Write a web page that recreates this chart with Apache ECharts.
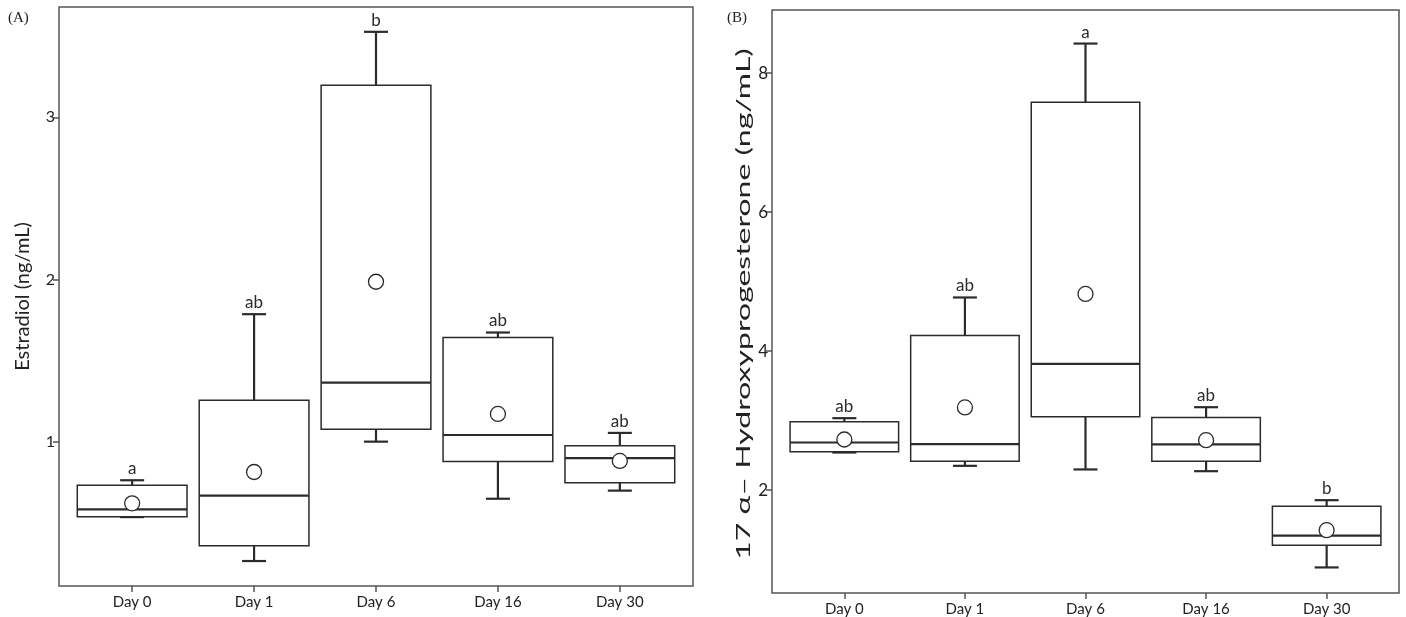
<!DOCTYPE html>
<html><head><meta charset="utf-8">
<script src="https://cdn.jsdelivr.net/npm/echarts@6/dist/echarts.min.js"></script>
<style>html,body{margin:0;padding:0;background:#fff}#c{width:1406px;height:617px}</style>
</head><body><div id="c"></div>
<script>
const categories = ['Day 0', 'Day 1', 'Day 6', 'Day 16', 'Day 30'];
// each box: [lower whisker, Q1, median, Q3, upper whisker]
const estradiolBox = [
  [0.535, 0.537, 0.583, 0.731, 0.762],
  [0.264, 0.358, 0.667, 1.256, 1.786],
  [1.000, 1.077, 1.364, 3.198, 3.527],
  [0.648, 0.877, 1.041, 1.642, 1.673],
  [0.698, 0.747, 0.898, 0.975, 1.054]
];
const estradiolMean = [0.620, 0.813, 1.986, 1.171, 0.881];
const estradiolLetters = ['a', 'ab', 'b', 'ab', 'ab'];
const estradiolTicks = [1, 2, 3];

const ohpBox = [
  [2.542, 2.551, 2.686, 2.983, 3.036],
  [2.350, 2.417, 2.662, 4.226, 4.773],
  [2.298, 3.055, 3.817, 7.583, 8.427],
  [2.273, 2.417, 2.658, 3.046, 3.194],
  [0.888, 1.206, 1.345, 1.770, 1.856]
];
const ohpMean = [2.729, 3.190, 4.824, 2.719, 1.424];
const ohpLetters = ['ab', 'ab', 'a', 'ab', 'b'];
const ohpTicks = [2, 4, 6, 8];
const catIdx = [0, 1, 2, 3, 4];

const INK = '#2b2b2b';
const FONT = 'Lato, "Open Sans", sans-serif';

function makeRender(letters) {
  return function (params, api) {
    const i = api.value(0);
    const pLow = api.coord([i, api.value(1)]);
    const pQ1 = api.coord([i, api.value(2)]);
    const pMed = api.coord([i, api.value(3)]);
    const pQ3 = api.coord([i, api.value(4)]);
    const pHigh = api.coord([i, api.value(5)]);
    const x = pLow[0];
    const bw = api.size([1, 0])[0] * 0.9;
    const cap = 12;
    const thick = { stroke: INK, lineWidth: 2.2, fill: null };
    return {
      type: 'group',
      children: [
        { type: 'line', shape: { x1: x, y1: pQ3[1], x2: x, y2: pHigh[1] }, style: thick },
        { type: 'line', shape: { x1: x - cap, y1: pHigh[1], x2: x + cap, y2: pHigh[1] }, style: thick },
        { type: 'line', shape: { x1: x, y1: pQ1[1], x2: x, y2: pLow[1] }, style: thick },
        { type: 'line', shape: { x1: x - cap, y1: pLow[1], x2: x + cap, y2: pLow[1] }, style: thick },
        { type: 'rect', shape: { x: x - bw / 2, y: pQ3[1], width: bw, height: pQ1[1] - pQ3[1] },
          style: { fill: '#fff', stroke: INK, lineWidth: 1.5 } },
        { type: 'line', shape: { x1: x - bw / 2, y1: pMed[1], x2: x + bw / 2, y2: pMed[1] }, style: thick },
        { type: 'text', x: x, y: pHigh[1] - 3,
          style: { text: letters[params.dataIndex], fill: INK, font: '17px ' + FONT, align: 'center', verticalAlign: 'bottom' } }
      ]
    };
  };
}

function boxData(box) { return box.map((b, i) => [catIdx[i], b[0], b[1], b[2], b[3], b[4]]); }
function meanData(m) { return m.map((v, i) => [catIdx[i], v]); }

const xAxisBase = (gridIndex) => ({
  type: 'value', gridIndex, min: -0.6, max: 4.6,
  axisLine: { show: false, onZero: false },
  splitLine: { show: false },
  axisTick: { show: true, customValues: catIdx, length: 6, lineStyle: { color: '#555', width: 1.5 } },
  axisLabel: { customValues: catIdx, formatter: v => categories[Math.round(v)], fontSize: 15, color: '#222', margin: 9, fontFamily: FONT }
});

const yAxisBase = (gridIndex, min, max, ticks, name, gap, fs) => ({
  type: 'value', gridIndex, min, max,
  axisLine: { show: false, onZero: false },
  splitLine: { show: false },
  axisTick: { show: true, customValues: ticks, length: 6, lineStyle: { color: '#555', width: 1.5 } },
  axisLabel: { customValues: ticks, fontSize: fs, color: '#222', margin: 4, fontFamily: FONT },
  name, nameLocation: 'middle', nameGap: gap,
  nameTextStyle: { fontSize: 20, color: '#222', fontFamily: FONT }
});

const chart = echarts.init(document.getElementById('c'));
chart.setOption({
  animation: false,
  backgroundColor: '#fff',
  grid: [
    { left: 59, top: 7, width: 634, height: 579, show: true, borderColor: '#555', borderWidth: 1.5, backgroundColor: 'transparent' },
    { left: 772, top: 10, width: 627, height: 583, show: true, borderColor: '#555', borderWidth: 1.5, backgroundColor: 'transparent' }
  ],
  xAxis: [xAxisBase(0), xAxisBase(1)],
  yAxis: [
    yAxisBase(0, 0.11, 3.68, estradiolTicks, 'Estradiol (ng/mL)', 26, 16),
    yAxisBase(1, 0.52, 8.91, ohpTicks, '', 24, 17)
  ],
  graphic: [
    { type: 'text', left: 8, top: 11, style: { text: '(A)', font: '15px "Liberation Serif", serif', fill: '#222' } },
    { type: 'text', left: 727, top: 11, style: { text: '(B)', font: '15px "Liberation Serif", serif', fill: '#222' } },
    { type: 'text', x: 744, y: 304, rotation: Math.PI / 2, scaleX: 1.6, scaleY: 1,
      style: { text: '17 α– Hydroxyprogesterone (ng/mL)', font: '20px ' + FONT, fill: '#222', align: 'center', verticalAlign: 'middle' } }
  ],
  series: [
    { type: 'custom', xAxisIndex: 0, yAxisIndex: 0, renderItem: makeRender(estradiolLetters), data: boxData(estradiolBox), z: 2 },
    { type: 'scatter', xAxisIndex: 0, yAxisIndex: 0, data: meanData(estradiolMean), symbol: 'circle', symbolSize: 15,
      itemStyle: { color: '#fff', borderColor: INK, borderWidth: 1.3, opacity: 1 }, z: 3 },
    { type: 'custom', xAxisIndex: 1, yAxisIndex: 1, renderItem: makeRender(ohpLetters), data: boxData(ohpBox), z: 2 },
    { type: 'scatter', xAxisIndex: 1, yAxisIndex: 1, data: meanData(ohpMean), symbol: 'circle', symbolSize: 15,
      itemStyle: { color: '#fff', borderColor: INK, borderWidth: 1.3, opacity: 1 }, z: 3 }
  ]
});
</script></body></html>
